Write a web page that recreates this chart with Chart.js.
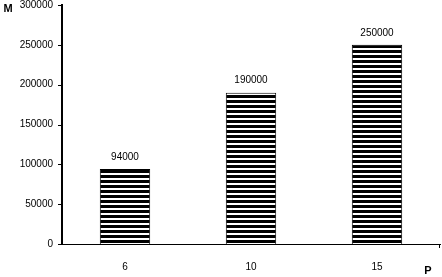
<!DOCTYPE html>
<html>
<head>
<meta charset="utf-8">
<script src="https://cdn.jsdelivr.net/npm/chart.js@4"></script>
<style>
  html, body { margin: 0; padding: 0; background: #fff; }
  #wrap { position: relative; width: 442px; height: 277px; }
</style>
</head>
<body>
<div id="wrap"><canvas id="chart" width="442" height="277"></canvas></div>
<script>
const categories = ['6', '10', '15'];
const values = [94000, 190000, 250000];
const yTicks = [0, 50000, 100000, 150000, 200000, 250000, 300000];
const yTitle = 'M';
const xTitle = 'P';

// horizontal stripes: 3px black, 2px white
function stripes() {
    const c = document.createElement('canvas');
    c.width = 4; c.height = 5;
    const g = c.getContext('2d');
    g.fillStyle = '#fff';
    g.fillRect(0, 0, 4, 5);
    g.fillStyle = '#000';
    g.fillRect(0, 0, 4, 3);
    return g.createPattern(c, 'repeat');
}

const extras = {
    id: 'extras',
    afterDatasetsDraw(chart) {
        const ctx = chart.ctx;
        const meta = chart.getDatasetMeta(0);
        const a = chart.chartArea;
        const ys = chart.scales.y;
        ctx.save();
        ctx.fillStyle = '#000';
        ctx.font = '10px "Liberation Sans", Arial, sans-serif';
        ctx.textAlign = 'center';
        ctx.textBaseline = 'middle';
        meta.data.forEach((bar, i) => {
            ctx.fillText(String(values[i]), bar.x, bar.y - 12);
        });
        ctx.strokeStyle = '#000';
        ctx.lineWidth = 1;
        ctx.beginPath();
        // y tick marks
        yTicks.forEach(v => {
            const y = Math.round(ys.getPixelForValue(v)) + 0.5;
            ctx.moveTo(a.left - 4, y);
            ctx.lineTo(a.left, y);
        });
        // end tick on the x axis
        ctx.moveTo(a.right - 0.5, a.bottom);
        ctx.lineTo(a.right - 0.5, a.bottom + 4);
        ctx.stroke();
        // axis letters
        ctx.font = 'bold 11px "Liberation Sans", Arial, sans-serif';
        ctx.fillText(yTitle, 8, 9);
        ctx.fillText(xTitle, 428, 271);
        ctx.restore();
    }
};

const font = { family: '"Liberation Sans", Arial, sans-serif', size: 10 };
const ctx = document.getElementById('chart').getContext('2d');
new Chart(ctx, {
    type: 'bar',
    data: {
        labels: categories,
        datasets: [{
            data: values,
            backgroundColor: stripes(),
            borderColor: '#000',
            borderWidth: 1,
            categoryPercentage: 1,
            barPercentage: 0.4
        }]
    },
    options: {
        responsive: false,
        animation: false,
        layout: { padding: { top: 5, right: 2, left: 0, bottom: 0 } },
        plugins: { legend: { display: false }, tooltip: { enabled: false } },
        scales: {
            x: {
                grid: { display: false },
                border: { color: '#000', width: 1 },
                ticks: { color: '#000', font, padding: 9 },
                afterFit(s) { s.height = 33; }
            },
            y: {
                min: 0,
                max: 300000,
                afterBuildTicks(s) { s.ticks = yTicks.map(v => ({ value: v })); },
                grid: { display: false },
                border: { color: '#000', width: 2 },
                ticks: { color: '#000', font, padding: 1, callback: v => String(v) },
                afterFit(s) { s.width = 62; s.paddingTop = 0; s.paddingBottom = 0; }
            }
        }
    },
    plugins: [extras]
});
</script>
</body>
</html>
